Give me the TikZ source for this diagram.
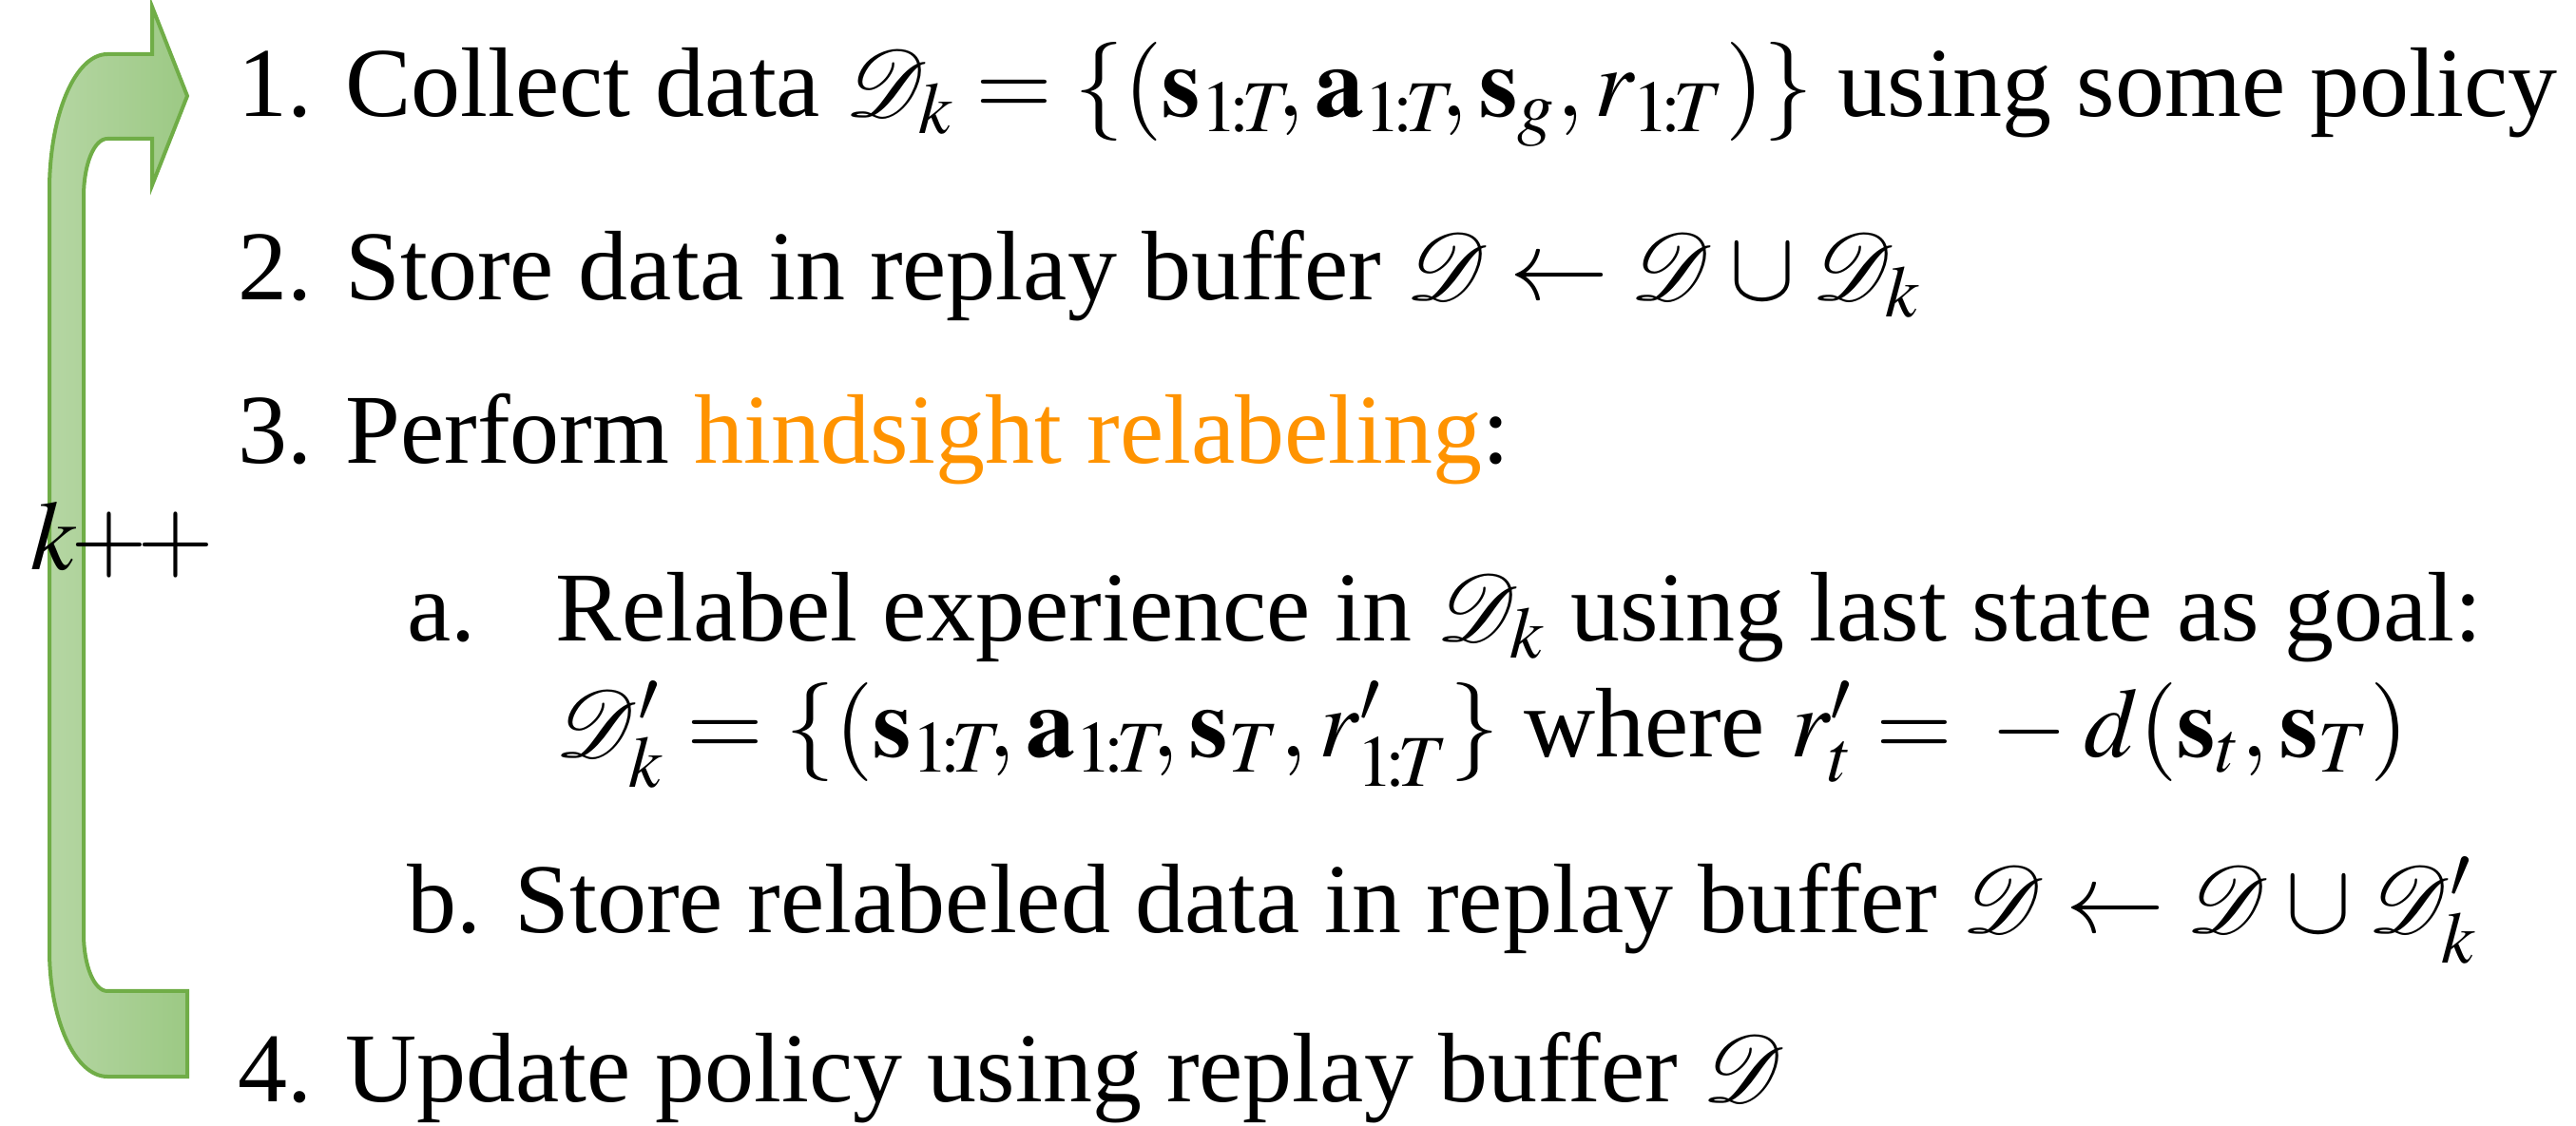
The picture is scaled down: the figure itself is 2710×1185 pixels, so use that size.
\documentclass[tikz,border=0pt]{standalone}
\usepackage{amsmath}
\usepackage{mathptmx}
\usepackage{mathrsfs}
\usepackage{fontspec}
\setmainfont{Liberation Serif}
\usepackage{tikz}
\usetikzlibrary{shadings,positioning}
\definecolor{vertbord}{RGB}{112,173,71}
\definecolor{vertclair}{RGB}{181,214,163}
\definecolor{vertfonce}{RGB}{156,201,132}
\definecolor{orangehs}{RGB}{255,147,0}
\newcommand\taille{\fontsize{26}{31}\selectfont\thinmuskip=2mu\medmuskip=3mu\thickmuskip=4mu}
\newcommand\iT{_{1\mkern-2mu:\mkern-2mu T}}
\newcommand\uT{\iT\mkern-3mu}
\tikzset{
  ligne/.style={anchor=base west,inner sep=0pt,font=\taille},
  boucle/.style={draw=vertbord,line width=1pt,left color=vertclair,right color=vertfonce}
}

\begin{document}
\begin{tikzpicture}[x=0.25pt,y=-0.25pt]
\useasboundingbox (0,0) rectangle (2710,1185);
\def\fleche{(197,1133)--(113,1133)..controls(79,1133)and(52,1073)..(52,1000)
  --(52,200)..controls(52,121)and(79,57)..(113,57)--(160,57)--(160,7)--(197,101)
  --(160,195)--(160,146)--(113,146)..controls(99,146)and(88,173)..(88,207)
  --(88,983)..controls(88,1016)and(99,1043)..(113,1043)--(197,1043)--cycle}
\draw[boucle] \fleche;
\node[ligne] (kpp) at (32,600) {$k\mkern-1mu{+}\mkern-2mu{+}$};
\node[ligne] (l1) at (250,123) {1. Collect data $\mathscr{D}_k = \{(\mathbf{s}\uT, \mathbf{a}\uT, \mathbf{s}_g, r\iT)\}$ using some policy};
\node[ligne] (l2) at (250,316) {2. Store data in replay buffer $\mathscr{D} \leftarrow \mathscr{D} \cup \mathscr{D}_k$};
\node[ligne] (l3) at (250,488) {3. Perform \textcolor{orangehs}{hindsight relabeling}:};
\node[ligne] (l3a) at (428,675) {a.};
\node[ligne] (l3a1) at (584,675) {Relabel experience in $\mathscr{D}_k$ using last state as goal:};
\node[ligne] (l3a2) at (584,797) {$\mathscr{D}'_k = \{(\mathbf{s}\uT, \mathbf{a}\uT, \mathbf{s}_T, r'\iT\}$ where $r'_t = {}-d(\mathbf{s}_t, \mathbf{s}_T)$};
\node[ligne] (l3b) at (428,982) {b. Store relabeled data in replay buffer $\mathscr{D} \leftarrow \mathscr{D} \cup \mathscr{D}'_k$};
\node[ligne] (l4) at (250,1160) {4. Update policy using replay buffer $\mathscr{D}$};
\end{tikzpicture}
\end{document}
